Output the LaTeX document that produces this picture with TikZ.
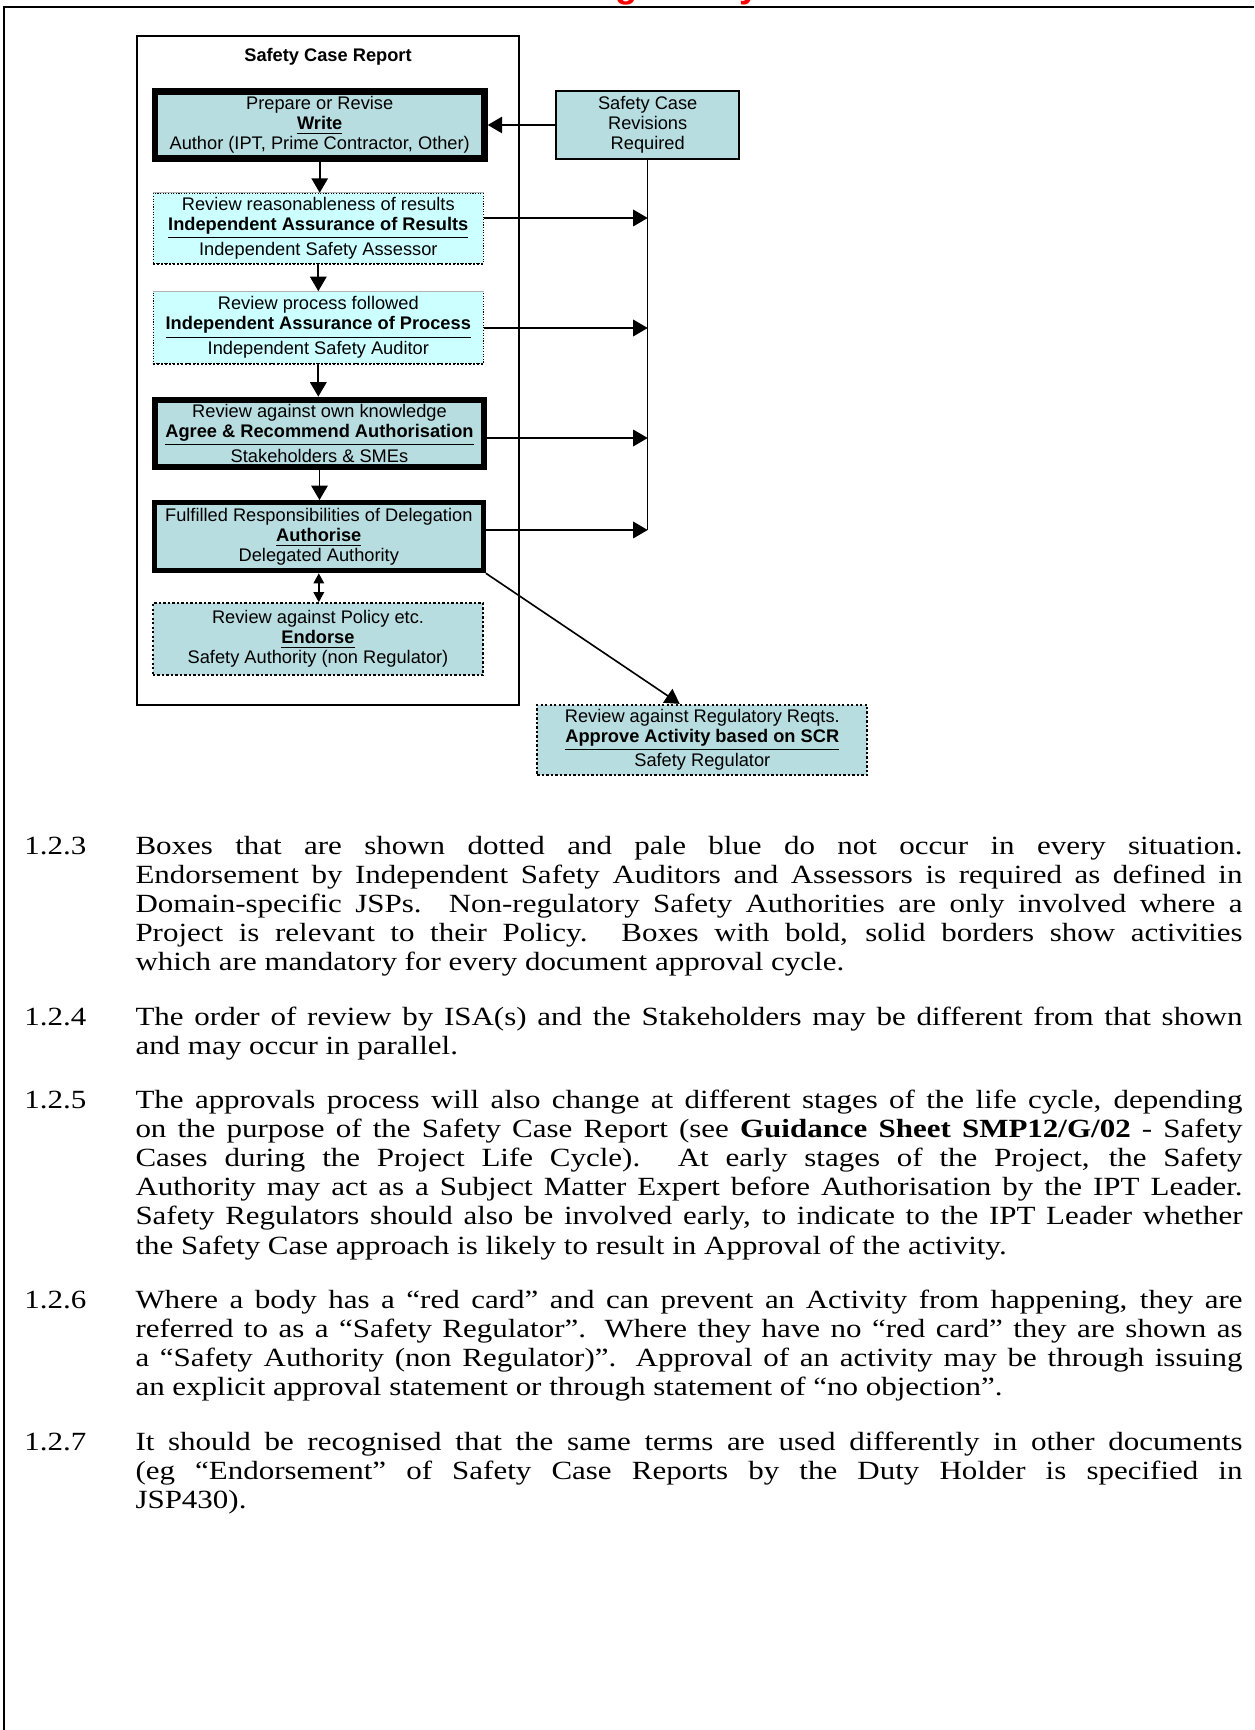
\documentclass[tikz,border=0pt]{standalone}
\usepackage{fontspec}
\setmainfont{Liberation Serif}[FakeStretch=1.18]
\newfontfamily\arialf{Liberation Sans}
\usetikzlibrary{arrows.meta,calc}
\definecolor{boxteal}{RGB}{183,221,224}
\definecolor{palecyan}{RGB}{204,255,255}
\newlength\txtW \setlength\txtW{442.8pt}
\newcommand\jline[1]{\hbox to \txtW{#1}}
\newcommand\lline[1]{\hbox{#1}}
\newcommand\parablock[1]{\vtop{\hsize=\txtW\baselineskip=11.68pt\lineskiplimit=-20pt #1}}
\begin{document}
\begin{tikzpicture}[x=0.4pt,y=-0.4pt,
  diag/.style={font=\arialf\fontsize{7.3}{8}\selectfont, align=center, inner sep=0pt},
  boldbox/.style={diag, draw, fill=boxteal},
  cyanbox/.style={diag, draw, fill=palecyan, line width=0.45pt, dash pattern=on 0.45pt off 0.6pt},
  dotbox/.style={diag, draw, fill=boxteal, line width=0.9pt, dash pattern=on 0.9pt off 0.9pt},
  arr/.style={line width=0.65pt, -{Triangle[width=6.6pt,length=5.8pt]}},
  dblarr/.style={line width=0.65pt, {Triangle[width=4.2pt,length=4pt]}-{Triangle[width=4.2pt,length=4pt]}},
  plain/.style={line width=0.55pt},
  body/.style={font=\fontsize{10.5}{11.68}\selectfont, inner sep=0pt, anchor=base west},
  redtitle/.style={font=\arialf\bfseries\fontsize{14.5}{16}\selectfont, text=red, inner sep=0pt, anchor=base west}]
\useasboundingbox (0,0) rectangle (1254,1730);
\fill[white] (0,0) rectangle (1254,1730);

% clipped red heading (only descenders visible)
\begin{scope}
\clip (0,0) rectangle (1254,1730);
\node[redtitle] (tg) at (615,-2) {g};
\node[redtitle] (ty) at (739,-2) {y};
\end{scope}

% page frame
\draw[line width=1pt] (1254,7) -- (4,7) -- (4,1730);

% container
\node[draw, line width=0.9pt, minimum width=152.8pt, minimum height=267.6pt, inner sep=0pt] (scr) at (328,370.5) {};
\node[diag, font=\arialf\bfseries\fontsize{7.3}{8}\selectfont] (scrtitle) at (328,57) {Safety Case Report};

% boxes
\node[boldbox, line width=2.6pt, minimum width=131.8pt, minimum height=26.8pt] (write) at (319.7,125)
  {Prepare or Revise\\\underline{\textbf{Write}}\\Author (IPT, Prime Contractor, Other)};
\node[cyanbox, minimum width=132pt, minimum height=27.9pt] (isar) at (318.3,228.2)
  {Review reasonableness of results\\\underline{\textbf{Independent Assurance of Results}}\\Independent Safety Assessor};
\node[cyanbox, minimum width=132pt, minimum height=28.6pt] (isap) at (318.3,327.5)
  {Review process followed\\\underline{\textbf{Independent Assurance of Process}}\\Independent Safety Auditor};
\node[boldbox, line width=2.4pt, minimum width=131.4pt, minimum height=26.9pt] (agree) at (319.5,433.3)
  {Review against own knowledge\\\underline{\textbf{Agree \& Recommend Authorisation}}\\Stakeholders \& SMEs};
\node[boldbox, line width=2pt, minimum width=131.7pt, minimum height=27.3pt] (auth) at (318.8,536.7)
  {Fulfilled Responsibilities of Delegation\\\underline{\textbf{Authorise}}\\Delegated Authority};
\node[dotbox, minimum width=132.2pt, minimum height=28.7pt] (endorse) at (318,639.2)
  {Review against Policy etc.\\\underline{\textbf{Endorse}}\\Safety Authority (non Regulator)};
\node[boldbox, line width=0.7pt, minimum width=73.3pt, minimum height=27.4pt] (rev) at (647.7,125)
  {Safety Case\\Revisions\\Required};
\node[dotbox, minimum width=132pt, minimum height=28pt] (approve) at (702.3,740)
  {Review against Regulatory Reqts.\\\underline{\textbf{Approve Activity based on SCR}}\\Safety Regulator};

% cyan box edge details
\draw[gray!60, line width=0.4pt] (isar.north west) -- (isar.north east);
\draw[line width=0.8pt, dash pattern=on 0.8pt off 0.8pt] (isar.south west) -- (isar.south east);
\draw[gray!60, line width=0.4pt] (isap.north west) -- (isap.north east);
\draw[line width=0.8pt, dash pattern=on 0.8pt off 0.8pt] (isap.south west) -- (isap.south east);

% main flow
\draw[arr] (write.south) -- (write.south |- isar.north);
\draw[arr] (isar.south) -- (isar.south |- isap.north);
\draw[arr] (isap.south) -- (isap.south |- agree.north);
\draw[arr] (agree.south) -- (agree.south |- auth.north);
\draw[dblarr] (auth.south) -- (auth.south |- endorse.north);

% revisions loop
\coordinate (r1) at (647.7,218);
\coordinate (r2) at (647.7,328);
\coordinate (r3) at (647.7,438);
\coordinate (r4) at (647.7,530);
\draw[plain] (rev.south) -- (r4);
\draw[arr] (rev.west) -- (rev.west -| write.east);
\draw[arr] (isar.east |- r1) -- (r1);
\draw[arr] (isap.east |- r2) -- (r2);
\draw[arr] (agree.east |- r3) -- (r3);
\draw[arr] (auth.east |- r4) -- (r4);

% to regulator
\draw[arr] (auth.south east) -- ($(approve.north west)!0.432!(approve.north east)$);

% body text
\node[body] (n3) at (24,854) {1.2.3};
\node[body] (p3) at (135,854) {\parablock{%
\jline{Boxes that are shown dotted and pale blue do not occur in every situation.}
\jline{Endorsement by Independent Safety Auditors and Assessors is required as defined in}
\jline{Domain-specific JSPs.  Non-regulatory Safety Authorities are only involved where a}
\jline{Project is relevant to their Policy.  Boxes with bold, solid borders show activities}
\lline{which are mandatory for every document approval cycle.}}};

\node[body] (n4) at (24,1025) {1.2.4};
\node[body] (p4) at (135,1025) {\parablock{%
\jline{The order of review by ISA(s) and the Stakeholders may be different from that shown}
\lline{and may occur in parallel.}}};

\node[body] (n5) at (24,1108) {1.2.5};
\node[body] (p5) at (135,1108) {\parablock{%
\jline{The approvals process will also change at different stages of the life cycle, depending}
\jline{on the purpose of the Safety Case Report (see \textbf{Guidance Sheet SMP12/G/02} - Safety}
\jline{Cases during the Project Life Cycle).  At early stages of the Project, the Safety}
\jline{Authority may act as a Subject Matter Expert before Authorisation by the IPT Leader.}
\jline{Safety Regulators should also be involved early, to indicate to the IPT Leader whether}
\lline{the Safety Case approach is likely to result in Approval of the activity.}}};

\node[body] (n6) at (24,1308) {1.2.6};
\node[body] (p6) at (135,1308) {\parablock{%
\jline{Where a body has a “red card” and can prevent an Activity from happening, they are}
\jline{referred to as a “Safety Regulator”.  Where they have no “red card” they are shown as}
\jline{a “Safety Authority (non Regulator)”.  Approval of an activity may be through issuing}
\lline{an explicit approval statement or through statement of “no objection”.}}};

\node[body] (n7) at (24,1450) {1.2.7};
\node[body] (p7) at (135,1450) {\parablock{%
\jline{It should be recognised that the same terms are used differently in other documents}
\jline{(eg “Endorsement” of Safety Case Reports by the Duty Holder is specified in}
\lline{JSP430).}}};
\end{tikzpicture}
\end{document}
